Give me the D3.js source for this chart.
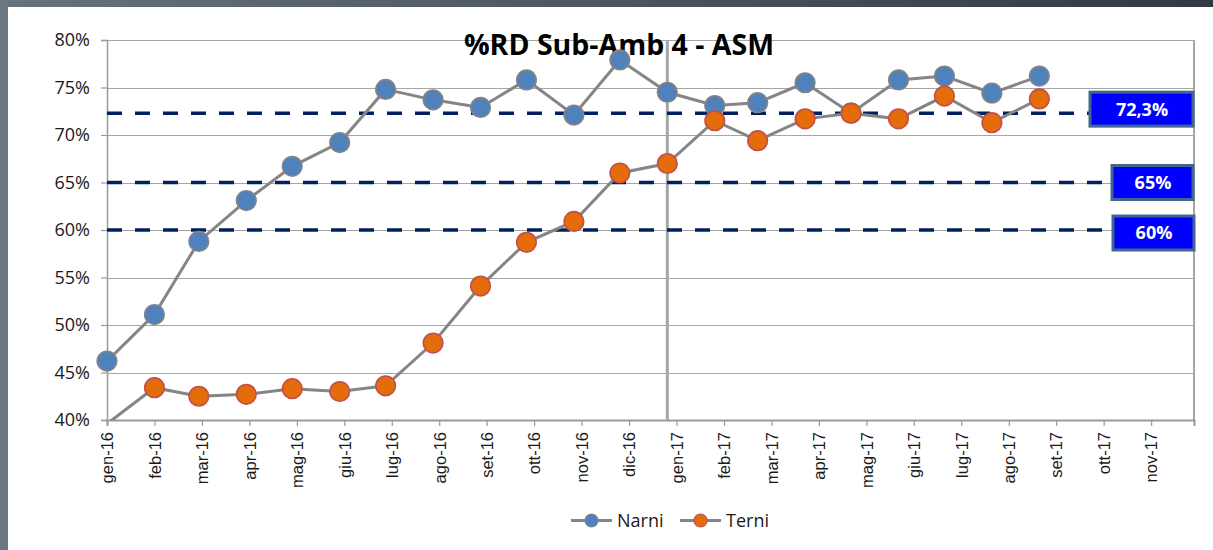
<!DOCTYPE html>
<html>
<head>
<meta charset="utf-8">
<script src="https://cdn.jsdelivr.net/npm/d3@7"></script>
<style>
  html, body { margin: 0; padding: 0; background: #ffffff; }
  svg { display: block; }
</style>
</head>
<body>
<svg id="chart" width="1213" height="550"></svg>
<script>
// ---- data ----
const title = "%RD Sub-Amb 4 - ASM";
const seriesNames = ["Narni", "Terni"];
const dates = ["2016-01-01","2016-02-01","2016-03-01","2016-04-01","2016-05-01","2016-06-01",
  "2016-07-01","2016-08-01","2016-09-01","2016-10-01","2016-11-01","2016-12-01",
  "2017-01-01","2017-02-01","2017-03-01","2017-04-01","2017-05-01","2017-06-01",
  "2017-07-01","2017-08-01","2017-09-01"];
const narni = [46.2, 51.1, 58.8, 63.1, 66.7, 69.2, 74.8, 73.7, 72.9, 75.8, 72.1, 77.9,
  74.5, 73.1, 73.4, 75.5, 72.3, 75.8, 76.2, 74.4, 76.2];
const terni = [39.6, 43.4, 42.5, 42.7, 43.3, 43.0, 43.6, 48.1, 54.1, 58.7, 60.9, 66.0,
  67.0, 71.5, 69.4, 71.7, 72.3, 71.7, 74.1, 71.3, 73.8];
const targets = [72.3, 65, 60];
const targetLabels = ["72,3%", "65%", "60%"];
const yTicks = [40, 45, 50, 55, 60, 65, 70, 75, 80];
const xTickLabels = ["gen-16","feb-16","mar-16","apr-16","mag-16","giu-16","lug-16","ago-16",
  "set-16","ott-16","nov-16","dic-16","gen-17","feb-17","mar-17","apr-17","mag-17","giu-17",
  "lug-17","ago-17","set-17","ott-17","nov-17"];
const xStart = "2016-01-01";
const xEnd = "2017-12-11";
const tickStepDays = 31;
const separatorDate = "2017-01-01";

// ---- layout ----
const svg = d3.select("#chart");
const W = 1213, H = 550;
const m = { left: 107, right: 1194, top: 40, bottom: 420 };
const parse = d3.utcParse("%Y-%m-%d");

// frame background (screenshot border)
svg.append("rect").attr("x", 0).attr("y", 0).attr("width", W).attr("height", H).attr("fill", "#ffffff");
const topGrad = svg.append("defs").append("linearGradient").attr("id", "tg");
topGrad.append("stop").attr("offset", "0%").attr("stop-color", "#66727c");
topGrad.append("stop").attr("offset", "100%").attr("stop-color", "#2f3a44");
svg.append("rect").attr("x", 0).attr("y", 0).attr("width", W).attr("height", 7).attr("fill", "url(#tg)");
svg.append("rect").attr("x", 0).attr("y", 0).attr("width", 8).attr("height", H).attr("fill", "#6c7881");

const x = d3.scaleUtc().domain([parse(xStart), parse(xEnd)]).range([m.left, m.right]);
const y = d3.scaleLinear().domain([40, 80]).range([m.bottom, m.top]);

const gridColor = "#a6a6a6";
const axisColor = "#9a9a9a";

// horizontal gridlines
svg.append("g").selectAll("line").data(yTicks).join("line")
  .attr("x1", m.left).attr("x2", m.right)
  .attr("y1", d => Math.round(y(d)) + 0.5).attr("y2", d => Math.round(y(d)) + 0.5)
  .attr("stroke", gridColor).attr("stroke-width", 1.2);

// plot border (right side)
svg.append("line").attr("x1", m.right).attr("x2", m.right).attr("y1", m.top).attr("y2", m.bottom)
  .attr("stroke", "#a6a6a6").attr("stroke-width", 2);

// y axis
const yAxis = d3.axisLeft(y).tickValues(yTicks).tickSize(6).tickFormat(d => d + "%");
const gy = svg.append("g").attr("transform", `translate(${m.left},0)`).call(yAxis);
gy.select(".domain").attr("stroke", axisColor).attr("stroke-width", 1.5);
gy.selectAll(".tick line").attr("stroke", axisColor).attr("stroke-width", 1.2);
gy.selectAll(".tick text").attr("fill", "#1a1a1a")
  .attr("font-family", "'Open Sans', sans-serif").attr("font-size", 18).attr("x", -17);

// x axis
const xTickValues = d3.range(xTickLabels.length).map(i => d3.utcDay.offset(parse(xStart), tickStepDays * i));
const xAxis = d3.axisBottom(x).tickValues(xTickValues).tickSize(6).tickFormat((d, i) => xTickLabels[i]);
const gx = svg.append("g").attr("transform", `translate(0,${m.bottom})`).call(xAxis);
gx.select(".domain").attr("stroke", axisColor).attr("stroke-width", 2);
gx.selectAll(".tick line").attr("stroke", axisColor).attr("stroke-width", 1.2);
gx.selectAll(".tick text")
  .attr("fill", "#1a1a1a")
  .attr("font-family", "'Liberation Sans', Arial, sans-serif").attr("font-size", 16.5)
  .attr("text-anchor", "end")
  .attr("transform", "translate(0,12) rotate(-90)")
  .attr("x", 0).attr("y", 0).attr("dy", "0.35em");

// separator vertical line
svg.append("line")
  .attr("x1", x(parse(separatorDate))).attr("x2", x(parse(separatorDate)))
  .attr("y1", m.top).attr("y2", m.bottom)
  .attr("stroke", "#a6a6a6").attr("stroke-width", 3);

// target dashed lines
svg.append("g").selectAll("line").data(targets).join("line")
  .attr("x1", m.left).attr("x2", m.right)
  .attr("y1", d => y(d)).attr("y2", d => y(d))
  .attr("stroke", "#002060").attr("stroke-width", 3.5)
  .attr("stroke-dasharray", "15,13");

// title
svg.append("text").attr("x", 619).attr("y", 55).attr("text-anchor", "middle")
  .attr("font-family", "'Open Sans', sans-serif").attr("font-weight", "bold").attr("font-size", 28.5)
  .attr("fill", "#000").text(title);

// series
const clip = svg.append("clipPath").attr("id", "plotclip").append("rect")
  .attr("x", m.left).attr("y", m.top).attr("width", m.right - m.left).attr("height", m.bottom - m.top);

const series = [
  { name: seriesNames[0], values: narni, fill: "#4f81bd", stroke: "#848484" },
  { name: seriesNames[1], values: terni, fill: "#e46c0a", stroke: "#c0504d" }
];
const line = d3.line().x((d, i) => x(parse(dates[i]))).y(d => y(d));

series.forEach(s => {
  svg.append("path").datum(s.values).attr("d", line)
    .attr("clip-path", "url(#plotclip)")
    .attr("fill", "none").attr("stroke", "#858585").attr("stroke-width", 3);
});
series.forEach(s => {
  svg.append("g").selectAll("circle")
    .data(s.values.map((v, i) => ({ v, i })).filter(d => d.v >= 40 && d.v <= 80))
    .join("circle")
    .attr("cx", d => x(parse(dates[d.i]))).attr("cy", d => y(d.v)).attr("r", 9.8)
    .attr("fill", s.fill).attr("stroke", s.stroke).attr("stroke-width", 1.6);
});

// target label boxes
const boxW = [104, 82, 82];
targets.forEach((t, i) => {
  const bx = m.right - boxW[i] + (i === 2 ? 1 : 0);
  const cy = y(t) - (i === 0 ? 4 : (i === 2 ? -3 : 0));
  svg.append("rect").attr("x", bx).attr("y", cy - 17).attr("width", boxW[i] - 1).attr("height", 34)
    .attr("fill", "#0000ff").attr("stroke", "#41678f").attr("stroke-width", 3);
  svg.append("text").attr("x", bx + boxW[i] / 2).attr("y", cy).attr("dy", "0.36em")
    .attr("text-anchor", "middle").attr("fill", "#ffffff")
    .attr("font-family", "'Open Sans', sans-serif").attr("font-weight", "bold").attr("font-size", 18)
    .text(targetLabels[i]);
});

// legend
const legendItems = [
  { name: seriesNames[0], fill: "#4f81bd", stroke: "#848484", x0: 571 },
  { name: seriesNames[1], fill: "#e46c0a", stroke: "#c0504d", x0: 680 }
];
const ly = 520.5;
legendItems.forEach(li => {
  svg.append("line").attr("x1", li.x0).attr("x2", li.x0 + 41).attr("y1", ly).attr("y2", ly)
    .attr("stroke", "#858585").attr("stroke-width", 3);
  svg.append("circle").attr("cx", li.x0 + 20.5).attr("cy", ly).attr("r", 6.5)
    .attr("fill", li.fill).attr("stroke", li.stroke).attr("stroke-width", 1.2);
  svg.append("text").attr("x", li.x0 + 46).attr("y", ly).attr("dy", "0.36em")
    .attr("font-family", "'Open Sans', sans-serif").attr("font-size", 18).attr("fill", "#1a1a1a")
    .text(li.name);
});
</script>
</body>
</html>
